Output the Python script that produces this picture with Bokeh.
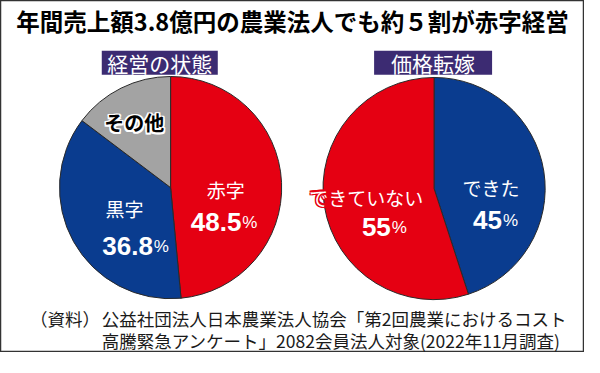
import numpy as np
from bokeh.plotting import figure
from bokeh.models import Range1d, ColumnDataSource
from bokeh.core.properties import value
from bokeh.embed import file_html
from bokeh.resources import INLINE

# ---- data ----
title_text = "年間売上額3.8億円の農業法人でも約５割が赤字経営"
panel_titles = ["経営の状態", "価格転嫁"]
status_labels = ["赤字", "黒字", "その他"]
status_values = [48.5, 36.8, 14.7]
transfer_labels = ["できた", "できていない"]
transfer_values = [45, 55]
source_note = "（資料）"
source_lines = ["公益社団法人日本農業法人協会「第2回農業におけるコスト",
                "高騰緊急アンケート」2082会員法人対象(2022年11月調査)"]

RED = "#E50012"
BLUE = "#0A3C8F"
GRAY = "#A3A3A3"
PURPLE = "#3C2B72"
JP = value("Noto Sans CJK JP")
NUM = value("Liberation Sans")

p = figure(width=584, height=352, output_backend="svg", toolbar_location=None,
           x_range=Range1d(3, 597), y_range=Range1d(369, 4), min_border=0)
p.axis.visible = False
p.grid.visible = False
p.outline_line_color = "#333333"
p.outline_line_width = 1.5
p.background_fill_color = "white"


def pie(cx, cy, r, vals, colors):
    v = np.array(vals, dtype=float)
    frac = v / v.sum()
    cum = np.concatenate([[0], np.cumsum(frac)])
    start = np.pi / 2 - 2 * np.pi * cum[:-1]
    end = np.pi / 2 - 2 * np.pi * cum[1:]
    src = ColumnDataSource(dict(x=[cx] * len(v), y=[cy] * len(v),
                                start=start, end=end, color=colors))
    p.wedge(x="x", y="y", radius=r, start_angle="start", end_angle="end",
            direction="clock", fill_color="color", line_color="#2a2a2a",
            line_width=1, source=src)


pie(176, 198, 113, status_values, [RED, BLUE, GRAY])
pie(444, 199, 113, transfer_values, [BLUE, RED])

# title
p.text(x=[300], y=[25], text=[title_text], text_font=JP, text_font_style="bold",
       text_font_size="23.5px", text_color="black", text_align="center",
       text_baseline="middle")

# panel title boxes
p.quad(left=[106, 383], right=[224, 503], top=[56, 56], bottom=[81, 81],
       fill_color=PURPLE, line_color=None)
p.text(x=[165, 443], y=[69, 69], text=panel_titles, text_font=JP,
       text_font_size="21px", text_color="white", text_align="center",
       text_baseline="middle")


def outlined(x, y, txt, color, ocolor, size, bold=False, w=1.4):
    style = "bold" if bold else "normal"
    for dx, dy in [(-w, 0), (w, 0), (0, -w), (0, w), (-w, -w), (w, w), (-w, w), (w, -w)]:
        p.text(x=[x], y=[y], text=[txt], text_font=JP, text_font_style=style,
               text_font_size=size, text_color=ocolor, text_align="center",
               text_baseline="middle", x_offset=dx, y_offset=dy)
    p.text(x=[x], y=[y], text=[txt], text_font=JP, text_font_style=style,
           text_font_size=size, text_color=color, text_align="center",
           text_baseline="middle")


# pie labels
outlined(139, 131, status_labels[2], "black", "white", "20px", bold=True, w=1.5)
p.text(x=[232, 129], y=[200, 220], text=status_labels[:2], text_font=JP,
       text_font_size="19px", text_color="white", text_align="center",
       text_baseline="middle")
p.text(x=[502], y=[198], text=[transfer_labels[0]], text_font=JP,
       text_font_size="19px", text_color="white", text_align="center",
       text_baseline="middle")
outlined(375, 208, transfer_labels[1], "white", RED, "19px", w=1.3)


def fmt(v):
    return f"{v:g}"


num_vals = [status_values[0], status_values[1], transfer_values[0], transfer_values[1]]
split_x = [248, 158, 513, 400]
base_y = [234, 259, 232, 239]
p.text(x=split_x, y=base_y, text=[fmt(v) for v in num_vals], text_font=NUM,
       text_font_style="bold", text_font_size="26px", text_color="white",
       text_align="right", text_baseline="alphabetic")
p.text(x=[sx + 1 for sx in split_x], y=base_y, text=["%"] * 4, text_font=NUM,
       text_font_size="17px", text_color="white", text_align="left",
       text_baseline="alphabetic")

# source
p.text(x=[33], y=[334], text=[source_note], text_font=JP, text_font_size="17.5px",
       text_color="#1a1a1a", text_align="left", text_baseline="middle")
p.text(x=[106, 106], y=[334, 357], text=source_lines, text_font=JP,
       text_font_size="17.5px", text_color="#1a1a1a", text_align="left",
       text_baseline="middle")

open("out.html", "w").write(file_html(p, INLINE))
